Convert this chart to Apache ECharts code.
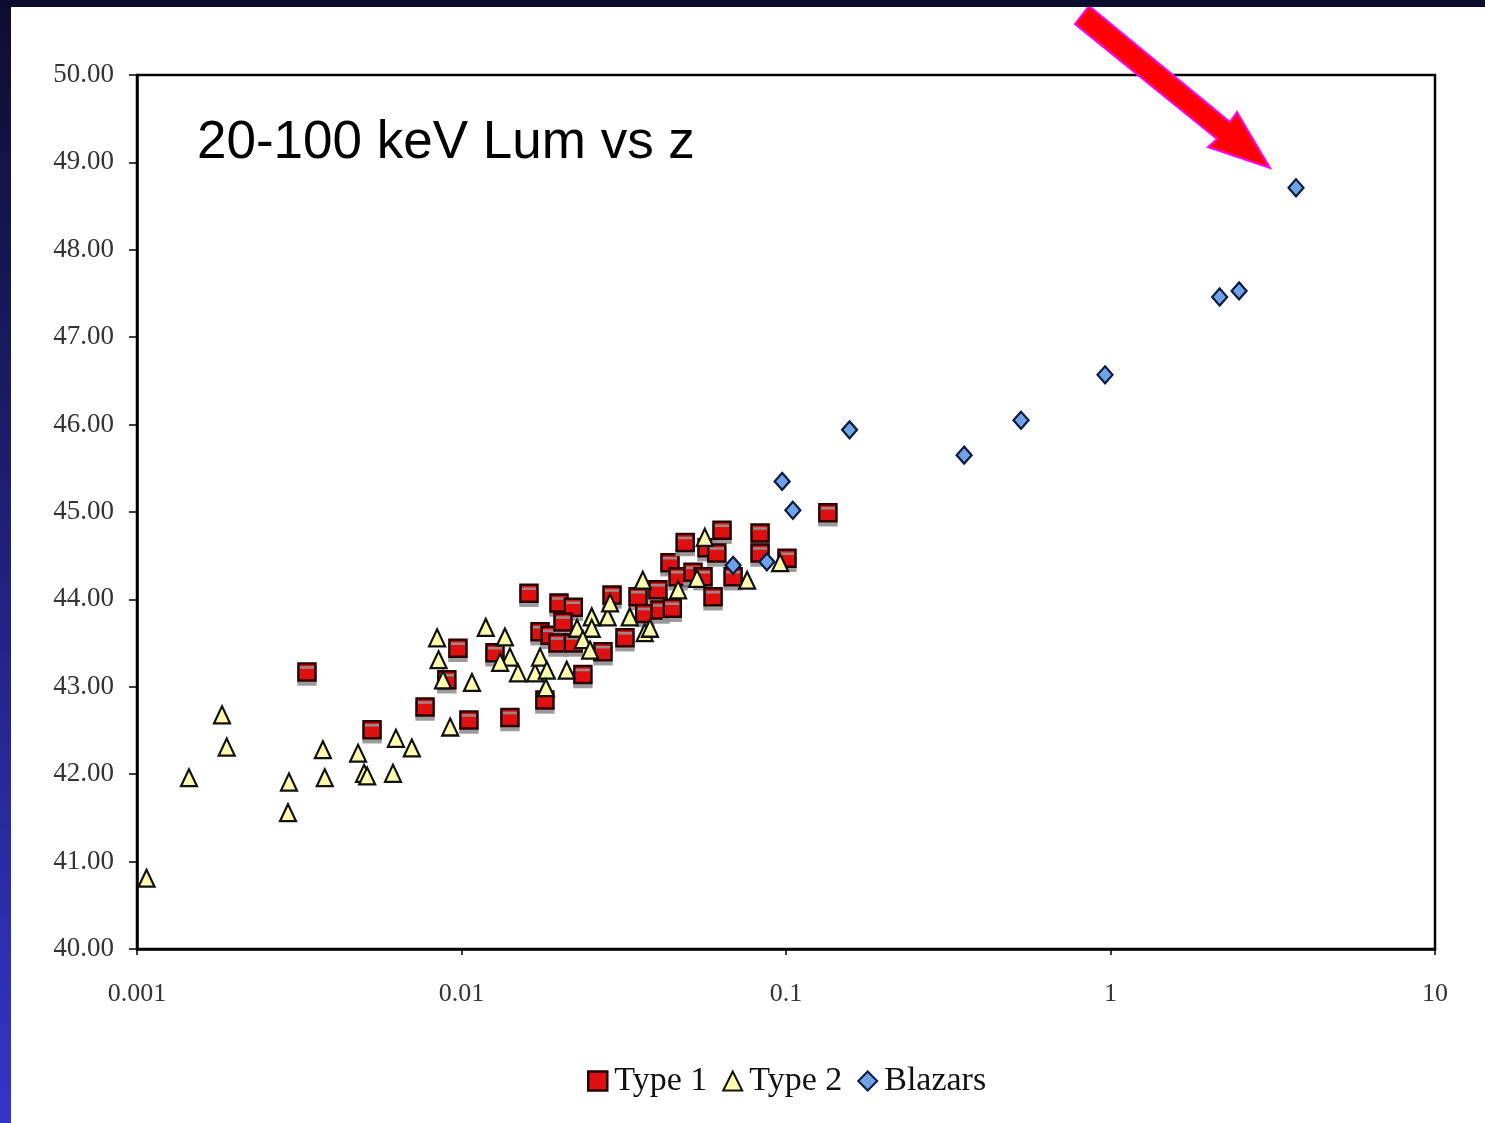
<!DOCTYPE html>
<html>
<head>
<meta charset="utf-8">
<script src="https://cdn.jsdelivr.net/npm/echarts@6/dist/echarts.min.js"></script>
<style>
html,body{margin:0;padding:0;background:#fff;}
#c{width:1485px;height:1123px;}
</style>
</head>
<body>
<div id="c"></div>
<script>
// ---- data ----
const xTickLabels = ['0.001', '0.01', '0.1', '1', '10'];
const seriesNames = ['Type 1', 'Type 2', 'Blazars'];

const type1Z = [0.00334, 0.0053, 0.00772, 0.00975, 0.00901, 0.01054, 0.0141, 0.01268, 0.01614, 0.01807,
  0.01746, 0.01875, 0.01997, 0.0221, 0.02055, 0.01983, 0.0221, 0.02366, 0.02729, 0.0291,
  0.0319, 0.035, 0.0367, 0.0403, 0.0409, 0.0446, 0.0439, 0.0465, 0.0489, 0.0517,
  0.0555, 0.0571, 0.0596, 0.0635, 0.0687, 0.0612, 0.0832, 0.0832, 0.1007, 0.1346];
const type1Lum = [43.17, 42.51, 42.77, 43.44, 43.08, 42.62, 42.65, 43.39, 44.07, 42.85,
  43.63, 43.59, 43.96, 43.91, 43.74, 43.50, 43.50, 43.14, 43.40, 44.05,
  43.56, 44.03, 43.84, 44.11, 43.88, 43.90, 44.42, 44.26, 44.65, 44.31,
  44.26, 44.59, 44.03, 44.79, 44.26, 44.53, 44.76, 44.53, 44.47, 44.99];

const type2Z = [0.00107, 0.001446, 0.001828, 0.00189, 0.00292, 0.00294, 0.00374, 0.00379, 0.0048, 0.00501,
  0.00512, 0.00615, 0.00628, 0.00703, 0.00841, 0.0085, 0.00877, 0.00923, 0.01077, 0.01188,
  0.01361, 0.0141, 0.01315, 0.01493, 0.01686, 0.01746, 0.01832, 0.0182, 0.0211, 0.0227,
  0.0252, 0.0252, 0.02366, 0.0249, 0.0282, 0.0287, 0.0362, 0.033, 0.0367, 0.0381,
  0.0465, 0.0532, 0.0562, 0.0759, 0.0959];
const type2Lum = [40.81, 41.96, 42.68, 42.31, 41.56, 41.91, 42.28, 41.96, 42.24, 42.01,
  41.98, 42.01, 42.41, 42.30, 43.56, 43.31, 43.08, 42.54, 43.05, 43.68,
  43.57, 43.34, 43.28, 43.16, 43.16, 43.34, 43.19, 42.99, 43.19, 43.67,
  43.80, 43.67, 43.54, 43.42, 43.80, 43.96, 44.22, 43.80, 43.62, 43.67,
  44.11, 44.24, 44.71, 44.22, 44.42];

const blazarZ = [3.73, 2.17, 2.49, 0.962, 0.53, 0.354, 0.157, 0.0973, 0.105, 0.0873, 0.0687];
const blazarLum = [48.71, 47.46, 47.53, 46.57, 46.05, 45.65, 45.94, 45.35, 45.02, 44.43, 44.39];

function pairs(xs, ys) { return xs.map((x, i) => [x, ys[i]]); }

const chart = echarts.init(document.getElementById('c'), null, {renderer: 'canvas'});
const serif = '"Liberation Serif", "DejaVu Serif", serif';

chart.setOption({
  backgroundColor: '#ffffff',
  animation: false,
  grid: {left: 137, right: 50, top: 75, bottom: 174, show: true, borderColor: '#000', borderWidth: 2.5, backgroundColor: 'transparent'},
  xAxis: {
    type: 'log', logBase: 10, min: 0.001, max: 10,
    axisLine: {show: true, onZero: false, lineStyle: {color: '#000', width: 2.5}},
    axisTick: {show: true, inside: false, length: 6, lineStyle: {color: '#000', width: 1.5}},
    minorTick: {show: false},
    splitLine: {show: false},
    axisLabel: {
      margin: 32, color: '#333', fontFamily: serif, fontSize: 26,
      formatter: function (v) {
        const k = Math.round(Math.log10(v)) + 3;
        return xTickLabels[k] !== undefined ? xTickLabels[k] : '';
      }
    }
  },
  yAxis: {
    type: 'value', min: 40, max: 50, interval: 1,
    axisLine: {show: true, onZero: false, lineStyle: {color: '#000', width: 2.5}},
    axisTick: {show: true, inside: false, length: 8, lineStyle: {color: '#000', width: 1.5}},
    splitLine: {show: false},
    axisLabel: {
      margin: 23, color: '#333', fontFamily: serif, fontSize: 27,
      formatter: function (v) { return v.toFixed(2); }
    }
  },
  legend: {
    top: 1059, left: 582,
    itemGap: 15, itemWidth: 19, itemHeight: 19,
    textStyle: {fontFamily: serif, fontSize: 34, color: '#111', padding: [0, 0, 0, 2]},
    data: [
      {name: seriesNames[0], icon: 'rect', itemStyle: {color: '#e01010', borderColor: '#200', borderWidth: 2.5}},
      {name: seriesNames[1], icon: 'triangle', itemStyle: {color: '#ffffb0', borderColor: '#111', borderWidth: 2}},
      {name: seriesNames[2], icon: 'diamond', itemStyle: {color: '#6fa3e6', borderColor: '#0a1a40', borderWidth: 2}}
    ]
  },
  graphic: [
    {type: 'rect', left: 0, top: 0, z: 100, shape: {width: 11, height: 1123},
      style: {fill: new echarts.graphic.LinearGradient(0, 0, 0, 1, [{offset: 0, color: '#0d0d30'}, {offset: 1, color: '#3434c8'}])}},
    {type: 'rect', left: 0, top: 0, z: 100, shape: {width: 1485, height: 7}, style: {fill: '#0c0c2e'}},
    {type: 'text', left: 197, top: 117, z: 50,
      style: {text: '20-100 keV Lum vs z', fontFamily: '"Liberation Sans", Arial, sans-serif', fontSize: 53, fill: '#000'}},
    {type: 'polygon', z: 60,
      shape: {points: [[1075, 24], [1089, 6], [1230, 122], [1237, 112], [1270, 168], [1208, 147], [1217, 139]]},
      style: {fill: '#ff0000', stroke: '#ff00ff', lineWidth: 2}}
  ],
  series: [
    {
      name: seriesNames[0], type: 'scatter', symbol: 'rect', symbolSize: 17,
      data: pairs(type1Z, type1Lum), z: 3,
      itemStyle: {color: '#e01010', borderColor: '#2a0000', borderWidth: 2.5, opacity: 1,
        shadowColor: 'rgba(150,150,150,0.9)', shadowOffsetY: 4, shadowBlur: 0}
    },
    {
      name: seriesNames[1], type: 'scatter', symbol: 'triangle', symbolSize: [16, 17],
      data: pairs(type2Z, type2Lum), z: 4,
      itemStyle: {color: '#ffffb0', borderColor: '#111', borderWidth: 2.2, opacity: 1}
    },
    {
      name: seriesNames[2], type: 'scatter', symbol: 'diamond', symbolSize: [15, 17],
      data: pairs(blazarZ, blazarLum), z: 5,
      itemStyle: {color: '#6fa3e6', borderColor: '#0a1a40', borderWidth: 2.2, opacity: 1}
    }
  ]
});
</script>
</body>
</html>
